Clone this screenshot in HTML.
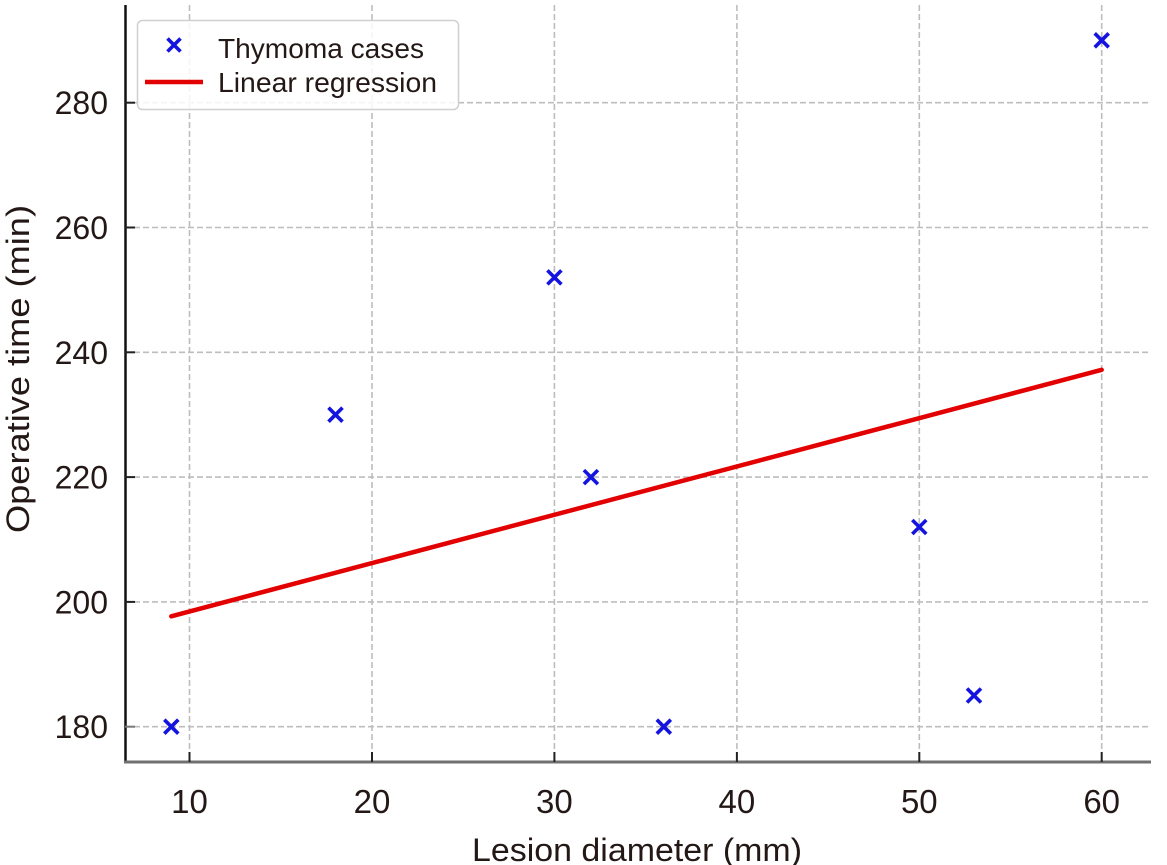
<!DOCTYPE html>
<html><head><meta charset="utf-8"><style>
html,body{margin:0;padding:0;background:#fff;}
svg{display:block;}
text{font-family:"Liberation Sans",sans-serif;fill:#231815;}
</style></head><body>
<svg width="1167" height="865" viewBox="0 0 1167 865" xmlns="http://www.w3.org/2000/svg">
<rect width="1167" height="865" fill="#fff"/>
<!-- grid -->
<g stroke="#bdbdbd" stroke-width="1.6" stroke-dasharray="6,3" fill="none">
<line x1="189.5" y1="5" x2="189.5" y2="762"/>
<line x1="372" y1="5" x2="372" y2="762"/>
<line x1="554.4" y1="5" x2="554.4" y2="762"/>
<line x1="736.9" y1="5" x2="736.9" y2="762"/>
<line x1="919.3" y1="5" x2="919.3" y2="762"/>
<line x1="1101.7" y1="5" x2="1101.7" y2="762"/>
<line x1="125" y1="726.7" x2="1148" y2="726.7"/>
<line x1="125" y1="601.9" x2="1148" y2="601.9"/>
<line x1="125" y1="477.1" x2="1148" y2="477.1"/>
<line x1="125" y1="352.3" x2="1148" y2="352.3"/>
<line x1="125" y1="227.5" x2="1148" y2="227.5"/>
<line x1="125" y1="102.7" x2="1148" y2="102.7"/>
</g>
<!-- spines -->
<line x1="125.5" y1="5" x2="125.5" y2="763" stroke="#111" stroke-width="2.5"/>
<line x1="124" y1="762" x2="1151" y2="762" stroke="#707070" stroke-width="3"/>
<!-- ticks -->
<g stroke="#222" stroke-width="2">
<line x1="125" y1="726.7" x2="135" y2="726.7" stroke="#777"/>
<line x1="125" y1="601.9" x2="135" y2="601.9"/>
<line x1="125" y1="477.1" x2="135" y2="477.1"/>
<line x1="125" y1="352.3" x2="135" y2="352.3"/>
<line x1="125" y1="227.5" x2="135" y2="227.5"/>
<line x1="125" y1="102.7" x2="135" y2="102.7"/>
<line x1="189.5" y1="752" x2="189.5" y2="762"/>
<line x1="372" y1="752" x2="372" y2="762"/>
<line x1="554.4" y1="752" x2="554.4" y2="762"/>
<line x1="736.9" y1="752" x2="736.9" y2="762"/>
<line x1="919.3" y1="752" x2="919.3" y2="762"/>
<line x1="1101.7" y1="752" x2="1101.7" y2="762"/>
</g>
<!-- tick labels -->
<g font-size="32" text-anchor="end">
<text x="108" y="738.2">180</text>
<text x="108" y="613.4">200</text>
<text x="108" y="488.6">220</text>
<text x="108" y="363.8">240</text>
<text x="108" y="239">260</text>
<text x="108" y="114.2">280</text>
</g>
<g font-size="33" text-anchor="middle">
<text x="189.5" y="813">10</text>
<text x="372" y="813">20</text>
<text x="554.4" y="813">30</text>
<text x="736.9" y="813">40</text>
<text x="919.3" y="813">50</text>
<text x="1101.7" y="813">60</text>
</g>
<!-- axis labels -->
<text x="472" y="861" font-size="32" textLength="330" lengthAdjust="spacingAndGlyphs">Lesion diameter (mm)</text>
<text transform="translate(29,533) rotate(-90)" x="0" y="0" font-size="32" textLength="328" lengthAdjust="spacingAndGlyphs">Operative time (min)</text>
<!-- regression line -->
<line x1="171.3" y1="616.3" x2="1101.7" y2="369.8" stroke="#e30000" stroke-width="4.5" stroke-linecap="round"/>
<!-- markers -->
<g stroke="#1414e0" stroke-width="3.6" stroke-linecap="butt">
<path d="M164.3 719.7 L178.3 733.7 M178.3 719.7 L164.3 733.7"/>
<path d="M328.5 407.7 L342.5 421.7 M342.5 407.7 L328.5 421.7"/>
<path d="M547.4 270.4 L561.4 284.4 M561.4 270.4 L547.4 284.4"/>
<path d="M583.9 470.1 L597.9 484.1 M597.9 470.1 L583.9 484.1"/>
<path d="M656.8 719.7 L670.8 733.7 M670.8 719.7 L656.8 733.7"/>
<path d="M912.3 520 L926.3 534 M926.3 520 L912.3 534"/>
<path d="M967 688.5 L981 702.5 M981 688.5 L967 702.5"/>
<path d="M1094.7 33.3 L1108.7 47.3 M1108.7 33.3 L1094.7 47.3"/>
</g>
<!-- legend -->
<rect x="137.5" y="20.5" width="321" height="89" rx="5" ry="5" fill="#fff" fill-opacity="0.85" stroke="#d0d0d0" stroke-width="1.5"/>
<path d="M167.5 38.5 L180.5 51.5 M180.5 38.5 L167.5 51.5" stroke="#1414e0" stroke-width="3.6"/>
<line x1="145" y1="82" x2="203" y2="82" stroke="#e30000" stroke-width="4.5"/>
<text x="218" y="58" font-size="28" textLength="206" lengthAdjust="spacingAndGlyphs">Thymoma cases</text>
<text x="218" y="92" font-size="28" textLength="219" lengthAdjust="spacingAndGlyphs">Linear regression</text>
</svg>
</body></html>
